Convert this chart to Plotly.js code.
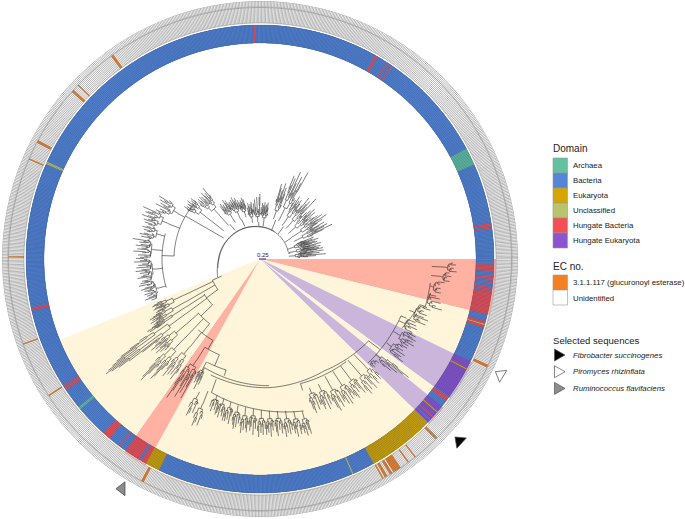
<!DOCTYPE html>
<html><head><meta charset="utf-8">
<script src="https://cdn.plot.ly/plotly-3.0.1.min.js"></script>
<style>html,body{margin:0;padding:0;background:#fff}</style></head>
<body><div id="chart" style="width:685px;height:519px"></div>
<script>
// ---------- legend / palette ----------
const domainNames=["Archaea","Bacteria","Eukaryota","Unclassified","Hungate Bacteria","Hungate Eukaryota"];
const domainColors=["#62C2A0","#5485D6","#D4A600","#B9C46C","#F25055","#8A55CF"];
const ecNames=["3.1.1.117 (glucuronoyl esterase)","Unidentified"];
const ecColors=["#F58023","#FFFFFF"];
const selectedNames=["Fibrobacter succinogenes","Piromyces rhizinflata","Ruminococcus flavifaciens"];
const selectedColors=["#000000","#FFFFFF","#8C8C8C"];
// angle (deg, counter-clockwise from east), radius of selected-sequence markers
const selectedTheta=[317.6,334.3,239];
const selectedR=[270,267,268];
const selectedTurn=[43,31,0];

// ---------- highlighted wedges: [start, end, colour index] ----------
const wedgeColors=["#FFB1A2","#CBB5DB","#FEF5DB"];
const wedges=[[346.3,360,0],[334,346.3,2],[323.7,334,1],[321,323.7,2],[315.7,321,1],[241,315.7,2],[234.9,241,0],[202,234.9,2]];

// ---------- inner ring: background is Bacteria, runs override it: [start, end, domain index] ----------
const leafCount=1100;
const ringRuns=[
 [23.8,28,0],[8.2,8.7,4],[7.4,7.9,4],[60,60.5,4],[56.8,57.3,4],[55.6,56.1,4],[91.3,91.8,4],[155.5,156,3],[192.2,192.7,4],
 [358.2,358.7,4],[356.9,357.6,4],[355,355.6,4],[354,354.6,4],[352.6,353.2,4],[346.3,352.2,4],[344,344.5,4],[343.5,344,3],[343,343.5,4],
 [324,334,5],[331.8,332.2,2],[322.8,323.7,4],[315.7,321,5],[319,319.4,2],[317.4,317.8,4],[316.5,316.9,1],
 [299,315.7,2],[293.2,293.6,3],[241,244.4,2],[234.9,241,4],[239,239.5,1],[233.4,234,1],[232.9,233.4,4],[228,230,4],[219.2,219.8,0],[213.4,214,4],[212.6,213.2,4]
];
// ---------- outer ring: orange (EC 3.1.1.117) angular runs ----------
const ecRuns=[[125.7,126.2],[136,136.5],[137.9,138.4],[152,152.5],[156.4,156.9],[179.2,179.8],[199.6,200.1],[212.6,213.1],[242,242.5],
 [299.2,299.6],[299.9,300.3],[301.2,301.6],[302,304.1],[305.9,306.3],[307.9,308.3],[314.3,314.7],[334.5,335]];

// ---------- tree backbone polylines [theta, r] ----------
const backbone=[
 [[203,46],[180,41],[135,36],[90,32],[45,30],[14,29]],
 [[192,43],[150,38],[100,33],[62,31]],
 [[150,42],[150,86]],[[140,86],[178,86]],[[178,86],[178,98]],[[165,98],[197,98]],
 [[131,38],[131,46]],[[115,36],[115,44]],[[92,33],[92,37]],[[68,31],[68,42]],[[34,30],[34,38]],[[11,29],[11,31]],[[54,31],[54,40]],
 [[204,42],[204,52]],[[204,52],[216,52]],[[216,52],[216,66]],[[212,66],[224,66]],[[224,66],[224,82]],[[221,82],[232,82]],[[232,82],[232,94]],
 [[229,94],[240,94]],[[240,94],[240,104]],[[238,104],[247,104]],[[247,104],[247,116]],[[243,116],[253,116]],[[253,116],[253,122]],
 [[243,122],[274,127]],[[247,126],[274,129]],[[274,129],[300,129],[323,136]],[[288,131],[310,134]],[[288,131],[288,138]],
 [[323,136],[323,150]],[[316,150],[338,152]],[[338,152],[338,158]],[[334,158],[344,166]],[[344,166],[344,172]],[[344,172],[352,172]],
 [[250,128],[250,142]],[[250,142],[286,158]],[[243,122],[243,146]]
];

// ---------- tree clades: [first angle, last angle, comb radius, stem-from radius, tip radii] ----------
const cladesUpperLeft=[
 [191,201,106,98,[118,122,112,124,116,110,119,123,114,120,117,112,121,115,119,113,118,122,111,116]],
 [180,191,106,98,[116,120,126,112,118,122,114,124,110,119,125,116,121,113,118,120,124,115,111,120]],
 [170,180,108,98,[114,129,118,122,112,120,125,115,119,123,113,127,118,110,122,116,120,124]],
 [163,170,102,98,[112,118,122,114,120,116,111,119,123,115,121,113]],
 [155,163,98,86,[112,128,118,122,124,114,120,126,116,119,123,112,121,117]],
 [147,155,94,86,[108,119,112,116,106,114,110,118,104,112,109,115]]
];
const cladesUpperTop=[
 [138,146,68,46,[88,92,86,90,84,88,93,85,89,91,84,87,90,86,92,88]],
 [128,138,60,46,[82,91,80,86,78,84,88,76,82,85,80,87,77,83,86,79,84,81]],
 [120,128,50,44,[62,68,60,66,70,62,58,66,64,60,68,62,66,58]],
 [112,120,48,44,[60,66,58,64,62,68,57,63,66,60,62,65,58,64]],
 [105,112,46,44,[56,62,58,64,54,60,62,56,60,58,63,55]],
 [98,105,39,37,[50,58,52,56,48,54,57,50,53,47]],
 [89,98,39,37,[46,65,62,50,48,62,46,52,60,48,56,50]],
 [80,89,37,33,[46,52,57,50,55,48,53,57,46,54,50,56,47,52]]
];
const cladesUpperRight=[
 [68,75,44,42,[58,70,76,66,80,72,64,74,78,62]],
 [60,68,44,42,[70,99,86,78,92,74,84,96,72,88,80,90]],
 [53,60,42,40,[62,68,72,64,70,66,74,60,69,65]],
 [46,53,42,40,[60,82,70,66,76,72,64,78,68,62]],
 [38,46,40,38,[58,66,62,72,60,68,74,64,70,56,66,60]],
 [31,38,40,38,[62,68,74,66,80,70,64,76,60,72,68]],
 [24,31,38,38,[58,70,80,64,72,76,62,68,74,60]],
 [16,23,31,29,[46,54,60,50,58,44,52,62,48,56,42,50,58,46]],
 [9,16,31,29,[48,58,64,52,60,44,56,62,50,46,58,52,63,48]],
 [2,9,31,29,[40,48,56,44,66,52,42,60,46,54,64,42]]
];
const cladesLowerLeft=[
 [203,208,84,52,[112,116,118,114,110,116,118,112,108,115,117,111]],
 [208,212,86,52,[118,122,126,116,124,120,127,118,122,125]],
 [212,214,88,66,[122,128,134,126,132,124]],
 [214,219,92,66,[146,158,170,176,182,188,192,186,178,166,150,134]],
 [219,224,98,82,[128,136,142,132,138,126,134,140,130,136,128,132]],
 [224,229,108,82,[146,156,166,170,160,150,144,152,162,158,148,142]],
 [229,234,112,94,[136,144,152,140,148,132,146,138,150,142]],
 [235,241,120,104,[140,152,167,158,146,134,150,162,142,156,138,148,160,132]],
 [241,244,124,116,[130,136,140,133,138,128,135,140]],
 [244,247,150,146,[164,173,170,160,168,158]],
 [247,250,156,142,[172,180,176,166,178,170]]
];
const cladesLowerSpiral=[
 [251,254,147,143,[156,150,160,154,148,158,152,162]],
 [254,257,148,144,[160,156,164,152,158,162,155,166]],
 [257,260,150,146,[162,166,158,164,154,168,160,156]],
 [260,263,152,148,[164,168,172,160,170,158,166,162]],
 [263,266,153,149,[168,175,165,172,162,170,174,166]],
 [266,269,154,150,[166,172,168,160,176,164,170,162]],
 [269,272,155,151,[172,178,166,174,168,176,164,170]],
 [272,275,156,152,[176,170,174,166,178,168,172,164]],
 [275,278,157,153,[168,174,178,164,172,166,176,170]],
 [278,281,158,154,[172,180,170,176,166,178,168,174]],
 [281,284,160,156,[170,178,174,182,172,168,180,176]],
 [284,287,162,158,[174,180,176,183,172,178,182,170]]
];
const cladesLowerRight=[
 [289,293,140,138,[152,160,164,156,150,162,148,158]],
 [293,297,142,138,[158,164,160,154,166,150,162,156]],
 [297,301,146,134,[160,168,172,158,164,170,154,166]],
 [301,305,146,134,[164,170,160,172,156,168,162,166]],
 [305,309,148,134,[168,171,160,166,158,164,170,156]],
 [309,313,150,134,[170,175,164,172,160,168,174,162]],
 [313,316,150,134,[164,172,168,160,170,166]],
 [316,319,150,150,[156,158,154,157,155,158]],
 [319,322,152,150,[165,172,160,178,168,184,190,176]],
 [324,329,154,152,[176,170,172,162,174,166,170,164,168,172]],
 [329,334,156,152,[166,172,168,177,170,174,164,176,172,168,174,170]],
 [334,338,158,152,[169,162,166,172,164,170,160,168]],
 [338,344,162,158,[178,172,170,179,174,166,176,170,172,168,178,174]],
 [344,349,172,172,[189,182,178,186,176,184,180,174]],
 [349,353,174,172,[184,180,183,178,182,186]],
 [353,356,182,172,[191,186,188,192,187,190]],
 [356,359,186,172,[197,192,194,190,196,193]]
];

// ---------- build traces ----------
const step=360/leafCount;
const leafTheta=[]; for(let i=0;i<leafCount;i++) leafTheta.push((i+0.5)*step);
function inRun(t,run){return t>=run[0]&&t<run[1];}
const innerCol=leafTheta.map(t=>{let c=1;ringRuns.forEach(r=>{if(inRun(t,r))c=r[2];});return domainColors[c];});
const outerCol=leafTheta.map(t=>ecRuns.some(r=>inRun(t,r))?ecColors[0]:ecColors[1]);

function ringTrace(colors,base,thick,lineCol,lineW,widen){
 return {type:'barpolar',theta:leafTheta,r:leafTheta.map(()=>thick),base:leafTheta.map(()=>base),width:leafTheta.map(()=>step*widen),
  marker:{color:colors,line:{color:lineCol,width:lineW}},hoverinfo:'skip',showlegend:false};
}
const wedgeTraces=wedges.map(w=>({type:'barpolar',theta:[(w[0]+w[1])/2],width:[w[1]-w[0]],r:[236],base:[0],
 marker:{color:wedgeColors[w[2]],line:{width:0}},hoverinfo:'skip',showlegend:false}));

const tt=[],tr=[];
function brk(){tt.push(null);tr.push(null);}
function seg(a,b){ // arc or radial piece between two polar points
 const n=Math.max(1,Math.ceil(Math.abs(b[0]-a[0])/1.5));
 for(let i=0;i<=n;i++){tt.push(a[0]+(b[0]-a[0])*i/n);tr.push(a[1]+(b[1]-a[1])*i/n);}
 brk();
}
backbone.forEach(p=>{for(let i=0;i<p.length-1;i++)seg(p[i],p[i+1]);});
// tips are joined pairwise upward, like a dendrogram, so that only the leaves come from the values
function node(tips,a0,a1,r0){
 if(tips.length===1){const a=(a0+a1)/2;seg([a,r0],[a,tips[0]]);return a;}
 const m=Math.floor(tips.length/2),am=a0+(a1-a0)*m/tips.length,lo=Math.min(...tips);
 const rc=r0+(lo-r0)*0.5;
 const l=node(tips.slice(0,m),a0,am,rc),h=node(tips.slice(m),am,a1,rc);
 const mid=(l+h)/2;
 seg([l,rc],[h,rc]);seg([mid,r0],[mid,rc]);
 return mid;
}
[cladesUpperLeft,cladesUpperTop,cladesUpperRight,cladesLowerLeft,cladesLowerSpiral,cladesLowerRight].forEach(g=>g.forEach(c=>{
 const [a0,a1,rb,rs,tips]=c;
 seg([(a0+a1)/2,rs],[(a0+a1)/2,rb]);
 node(tips,a0,a1,rb);
}));
const treeTrace={type:'scatterpolar',mode:'lines',theta:tt,r:tr,connectgaps:false,line:{color:'#2a2a2a',width:0.6},hoverinfo:'skip',showlegend:false};

// selected-sequence triangles sit outside the polar range, so they use a page-wide cartesian layer
const W=685,H=519,cx=260,cy=259;
const selTrace={type:'scatter',mode:'markers',xaxis:'x',yaxis:'y',
 x:selectedTheta.map((t,i)=>cx+selectedR[i]*Math.cos(t*Math.PI/180)),
 y:selectedTheta.map((t,i)=>cy-selectedR[i]*Math.sin(t*Math.PI/180)),
 cliponaxis:false,marker:{symbol:'triangle-left',size:12,color:selectedColors,angle:selectedTurn,line:{color:'#444',width:0.7}},hoverinfo:'skip',showlegend:false};

// ---------- legend as paper-anchored shapes + text ----------
const px=x=>x/W,py=y=>1-y/H;
const shapes=[],ann=[];
function label(x,y,text,size){ann.push({xref:'paper',yref:'paper',x:px(x),y:py(y),text:text,showarrow:false,xanchor:'left',yanchor:'middle',
 font:{family:'Liberation Sans, Arial, sans-serif',size:size,color:'#222'}});}
function sw(y,c){shapes.push({type:'rect',xref:'paper',yref:'paper',x0:px(553),x1:px(567.5),y0:py(y),y1:py(y+15),fillcolor:c,line:{color:'#999',width:0.6}});}
label(551,149,'Domain',10);
domainNames.forEach((n,i)=>{sw(158+15*i,domainColors[i]);label(571,165.5+15*i,n,7.8);});
label(551,266,'EC no.',10);
ecNames.forEach((n,i)=>{sw(275+15*i,ecColors[i]);label(571,282+16*i,n,7.8);});
label(551,340,'Selected sequences',9.6);
selectedNames.forEach((n,i)=>{const y=355+16.7*i;label(571,y,'<i>'+n+'</i>',7.8);
 shapes.push({type:'path',xref:'paper',yref:'paper',path:`M${px(554.5)},${py(y-6)}L${px(565)},${py(y)}L${px(554.5)},${py(y+6)}Z`,fillcolor:selectedColors[i],line:{color:'#555',width:0.7}});});
// scale bar
label(254.5,255.5,'<span style="color:#1c1c7a">0.25</span>',6);
shapes.push({type:'line',xref:'paper',yref:'paper',x0:px(259),x1:px(266),y0:py(259),y1:py(259),line:{color:'#1c1c7a',width:1}});

const layout={width:W,height:H,margin:{l:0,r:0,t:0,b:0},paper_bgcolor:'#fff',plot_bgcolor:'rgba(0,0,0,0)',showlegend:false,dragmode:false,shapes:shapes,annotations:ann,
 xaxis:{visible:false,range:[0,W],domain:[0,1],fixedrange:true},yaxis:{visible:false,range:[H,0],domain:[0,1],fixedrange:true},
 polar:{domain:{x:[2/W,518/W],y:[1-517/H,1-1/H]},bgcolor:'rgba(0,0,0,0)',barmode:'overlay',bargap:0,
  radialaxis:{visible:false,range:[0,258]},angularaxis:{visible:false,direction:'counterclockwise',rotation:0}}};
Plotly.newPlot('chart',[...wedgeTraces,
 ringTrace(innerCol,216,18,'#2a3f66',0,1.8),
 ringTrace(innerCol,216,18,'#2a3f66',0.2,1),
 ringTrace(outerCol,236,15.5,'#333',0.25,1),
 ringTrace(leafTheta.map(()=>'#fff'),252,6,'#333',0.25,1),
 treeTrace,selTrace],layout,{staticPlot:true,displayModeBar:false});
</script></body></html>
